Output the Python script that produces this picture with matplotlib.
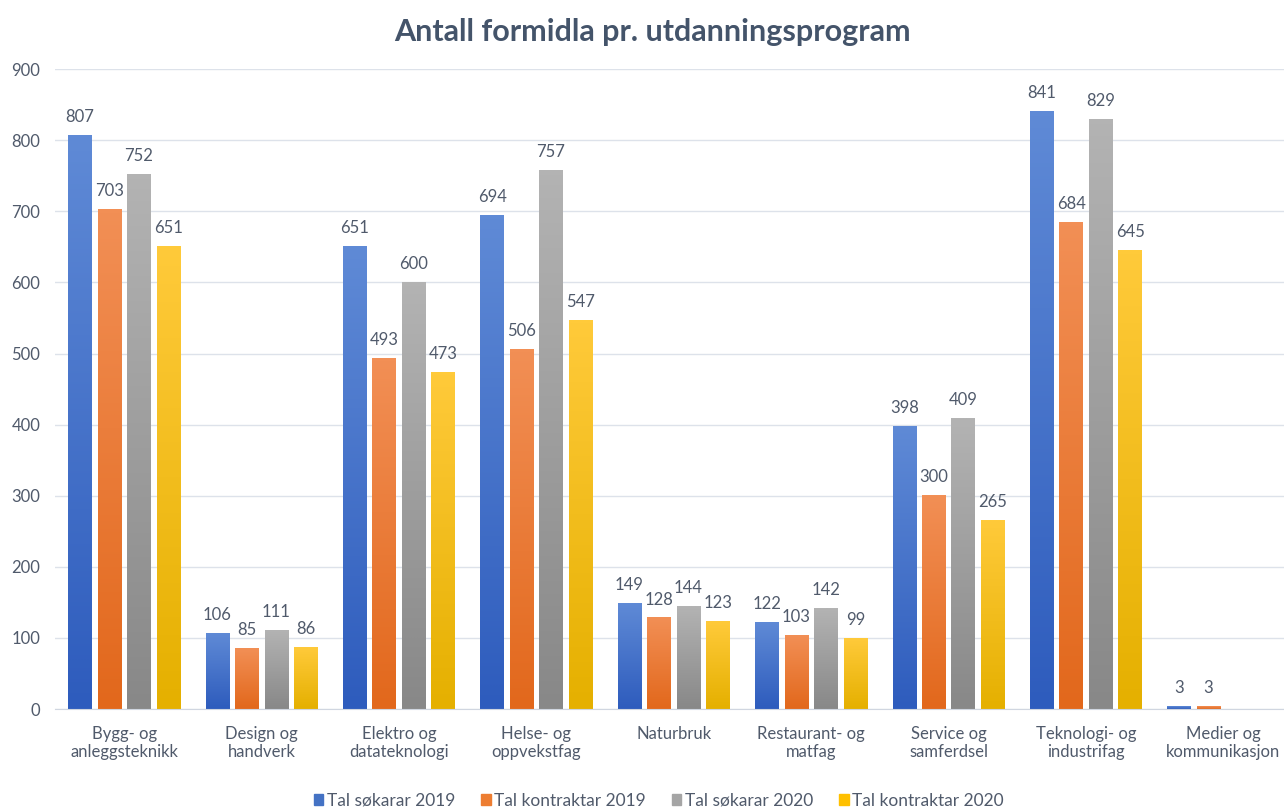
import matplotlib.pyplot as plt
import matplotlib.patches as mpatches
import matplotlib.colors as mcolors
import numpy as np

plt.rcParams['font.family'] = ['Lato', 'DejaVu Sans']

categories = [
    "Bygg- og\nanleggsteknikk", "Design og\nhandverk", "Elektro og\ndatateknologi",
    "Helse- og\noppvekstfag", "Naturbruk", "Restaurant- og\nmatfag",
    "Service og\nsamferdsel", "Teknologi- og\nindustrifag", "Medier og\nkommunikasjon"
]
sokarar_2019 = [807, 106, 651, 694, 149, 122, 398, 841, 3]
kontrakt_2019 = [703, 85, 493, 506, 128, 103, 300, 684, 3]
sokarar_2020 = [752, 111, 600, 757, 144, 142, 409, 829, None]
kontrakt_2020 = [651, 86, 473, 547, 123, 99, 265, 645, None]

series = [
    ("Tal søkarar 2019", sokarar_2019, "#4472c4", "#5f8ad6", "#2e5cbd"),
    ("Tal kontraktar 2019", kontrakt_2019, "#ed7d31", "#f28f55", "#e2681c"),
    ("Tal søkarar 2020", sokarar_2020, "#a5a5a5", "#b3b3b3", "#888888"),
    ("Tal kontraktar 2020", kontrakt_2020, "#ffc000", "#ffca3a", "#e5b000"),
]

text_col = "#505a6b"

fig = plt.figure(figsize=(12.84, 8.08), dpi=100)
ax = fig.add_axes([0.0432, 0.1225, 0.963, 0.792])

x = np.arange(len(categories))
step = 0.2144
bw = 0.171

handles = []
for i, (name, vals, base, top, bot) in enumerate(series):
    cmap = mcolors.LinearSegmentedColormap.from_list(name, [bot, top])
    grad = np.linspace(1, 0, 100).reshape(-1, 1)
    for j, v in enumerate(vals):
        if v is None:
            continue
        cx = x[j] + (i - 1.5) * step
        h = max(v, 0.0)
        ax.imshow(grad, cmap=cmap, extent=(cx - bw / 2, cx + bw / 2, 0, h),
                  aspect='auto', zorder=2, interpolation='bilinear')
        ax.annotate(str(v), (cx, v), xytext=(0, 7.5), textcoords='offset points',
                    ha='center', va='bottom', fontsize=12, color=text_col)
    handles.append(mpatches.Patch(color=base, label=name))

ax.set_xlim(-0.5, len(categories) - 0.5)
ax.set_ylim(0, 900)
ax.set_yticks(range(0, 901, 100))
ax.set_xticks(x)
ax.set_xticklabels(categories, fontsize=12, color=text_col, linespacing=1.2)
ax.tick_params(axis='y', labelsize=12, labelcolor=text_col, length=0, pad=11)
ax.tick_params(axis='x', length=0, pad=12)
ax.grid(axis='y', color='#dde2ea', linewidth=1, zorder=0)
ax.set_axisbelow(True)
for s in ['top', 'right', 'left']:
    ax.spines[s].set_visible(False)
ax.spines['bottom'].set_color('#d0d6e0')

fig.suptitle("Antall formidla pr. utdanningsprogram", fontsize=22, fontweight='bold',
             color='#44546a', x=0.508, y=0.978)
fig.legend(handles=handles, loc='lower center', bbox_to_anchor=(0.513, -0.02), ncol=4,
           frameon=False, fontsize=12.5, handlelength=0.55, handleheight=0.55,
           handletextpad=0.2, columnspacing=1.5, labelcolor=text_col)

fig.savefig("out.png", dpi=100)
